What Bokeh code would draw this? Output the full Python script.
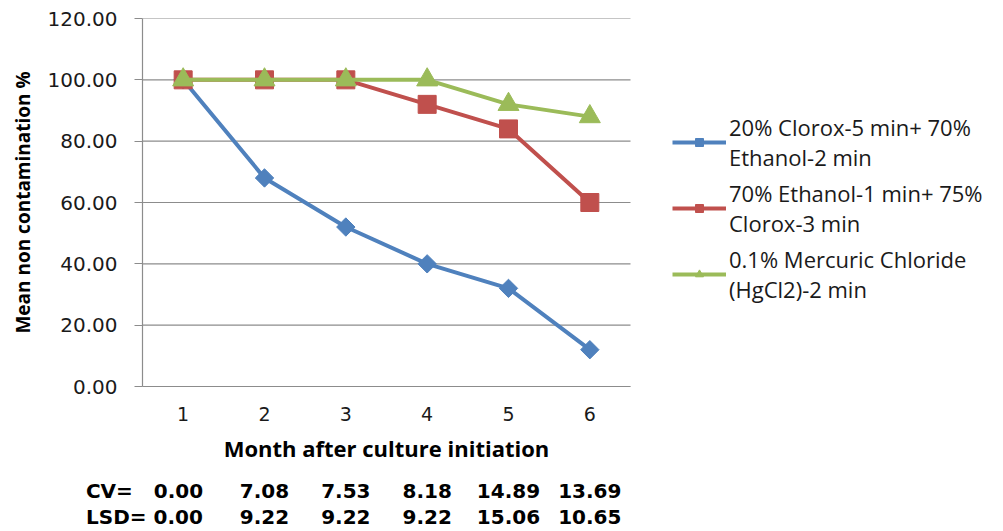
import math
from bokeh.plotting import figure
from bokeh.models import Legend, LegendItem, FixedTicker, Range1d, NumeralTickFormatter, LinearAxis
from bokeh.embed import file_html
from bokeh.resources import INLINE

# Data
months = [1, 2, 3, 4, 5, 6]
clorox_ethanol = [100, 68, 52, 40, 32, 12]
ethanol_clorox = [100, 100, 100, 92, 84, 60]
mercuric = [100, 100, 100, 100, 92, 88]
series_names = [
    "20% Clorox-5 min+ 70%\nEthanol-2 min",
    "70% Ethanol-1 min+ 75%\nClorox-3 min",
    "0.1% Mercuric Chloride\n(HgCl2)-2 min",
]
x_title = "Month after culture initiation"
y_title = "Mean non contamination %"
row_titles = ["CV=", "LSD="]
cv_values = ["0.00", "7.08", "7.53", "8.18", "14.89", "13.69"]
lsd_values = ["0.00", "9.22", "9.22", "9.22", "15.06", "10.65"]
y_ticks = [0, 20, 40, 60, 80, 100, 120]

BLUE = "#4F81BD"
RED = "#C0504D"
GREEN = "#9BBB59"
GRID = "#8C8C8C"
TEXT = "#1A1A1A"
NBSP = "\u00a0"

# Layout: the plotting area runs from x=142 to x=630 px; the frame continues
# to the right edge so that the legend can sit beside the plotting area.
W, H = 1003, 531
LEFT, PLOT_RIGHT, TOP, BOTTOM = 142, 630, 18, 386
x_lo, x_hi = 0.5, 6.5
px_per_unit = (PLOT_RIGHT - LEFT) / (x_hi - x_lo)
x_view_end = x_lo + (W - LEFT) / px_per_unit


def px_to_x(px):
    return round(x_lo + (px - LEFT) / px_per_unit, 4)


p = figure(
    width=W, height=H,
    x_range=Range1d(x_lo, x_view_end), y_range=Range1d(0, 120),
    output_backend="svg", toolbar_location=None,
    min_border_left=LEFT, min_border_right=0,
    min_border_top=TOP, min_border_bottom=H - BOTTOM,
)
p.outline_line_color = None
p.xgrid.visible = False
p.ygrid.visible = False

# Horizontal gridlines limited to the plotting area
p.segment(x0=[x_lo] * len(y_ticks), x1=[x_hi] * len(y_ticks), y0=y_ticks, y1=y_ticks,
          line_color=GRID, line_width=1.2)

# Y axis
p.yaxis.ticker = FixedTicker(ticks=y_ticks)
p.yaxis.formatter = NumeralTickFormatter(format="0.00")
p.yaxis.axis_line_color = GRID
p.yaxis.axis_line_width = 1.2
p.yaxis.major_tick_line_color = GRID
p.yaxis.major_tick_out = 8
p.yaxis.major_tick_in = 0
p.yaxis.minor_tick_line_color = None
p.yaxis.major_label_text_font = "DejaVu Sans"
p.yaxis.major_label_text_font_size = "20px"
p.yaxis.major_label_text_color = TEXT
p.yaxis.major_label_standoff = 17
p.yaxis.axis_label = y_title
p.yaxis.axis_label_text_font = "Open Sans"
p.yaxis.axis_label_text_font_style = "bold"
p.yaxis.axis_label_text_font_size = "19px"
p.yaxis.axis_label_text_color = "#000000"
p.yaxis.axis_label_standoff = 9

# X axis (month numbers)
p.xaxis.bounds = (x_lo, x_hi)
p.xaxis.ticker = FixedTicker(ticks=months)
p.xaxis.axis_line_color = GRID
p.xaxis.axis_line_width = 1.2
p.xaxis.major_tick_line_color = None
p.xaxis.minor_tick_line_color = None
p.xaxis.major_label_text_font = "DejaVu Sans"
p.xaxis.major_label_text_font_size = "19px"
p.xaxis.major_label_text_color = TEXT
p.xaxis.major_label_standoff = 14


def label_row(ticks, labels, standoff, font, size):
    """A line-less axis below the plot that only prints one label per tick."""
    ax = LinearAxis(
        ticker=FixedTicker(ticks=ticks),
        major_label_overrides=dict(zip(ticks, labels)),
        axis_line_color=None,
        major_tick_line_color=None,
        minor_tick_line_color=None,
        major_label_standoff=standoff,
        major_label_text_font=font,
        major_label_text_font_style="bold",
        major_label_text_font_size=size,
        major_label_text_color="#000000",
    )
    p.add_layout(ax, "below")


# X axis title, centred under the plotting area
label_row([(x_lo + x_hi) / 2], [x_title], 3, "Open Sans", "22px")

# CV / LSD rows: the row title shares the first month's label
cv_first = row_titles[0] + NBSP * 3 + cv_values[0]
lsd_first = row_titles[1] + NBSP + lsd_values[0]
label_row([px_to_x(144)] + months[1:], [cv_first] + cv_values[1:], 7, "DejaVu Sans", "20px")
label_row([px_to_x(144)] + months[1:], [lsd_first] + lsd_values[1:], -7, "DejaVu Sans", "20px")

# Series
l1 = p.line(months, clorox_ethanol, line_color=BLUE, line_width=4)
m1 = p.scatter(months, clorox_ethanol, marker="square", angle=math.pi / 4, size=13,
               fill_color=BLUE, line_color=BLUE)
l2 = p.line(months, ethanol_clorox, line_color=RED, line_width=4)
m2 = p.scatter(months, ethanol_clorox, marker="square", size=18, fill_color=RED, line_color=RED)
l3 = p.line(months, mercuric, line_color=GREEN, line_width=4)
m3 = p.scatter(months, mercuric, marker="triangle", size=21, fill_color=GREEN, line_color=GREEN)

legend = Legend(
    items=[
        LegendItem(label=series_names[0], renderers=[l1, m1]),
        LegendItem(label=series_names[1], renderers=[l2, m2]),
        LegendItem(label=series_names[2], renderers=[l3, m3]),
    ],
    location=(672 - LEFT, BOTTOM - 304),
    border_line_color=None,
    background_fill_alpha=0,
    padding=0, margin=0, spacing=6,
    glyph_width=54, glyph_height=20,
    label_standoff=3,
    label_text_font="Open Sans",
    label_text_font_size="22px",
    label_text_line_height=1.3,
    label_text_color=TEXT,
)
p.add_layout(legend)

open("out.html", "w").write(file_html(p, INLINE))
